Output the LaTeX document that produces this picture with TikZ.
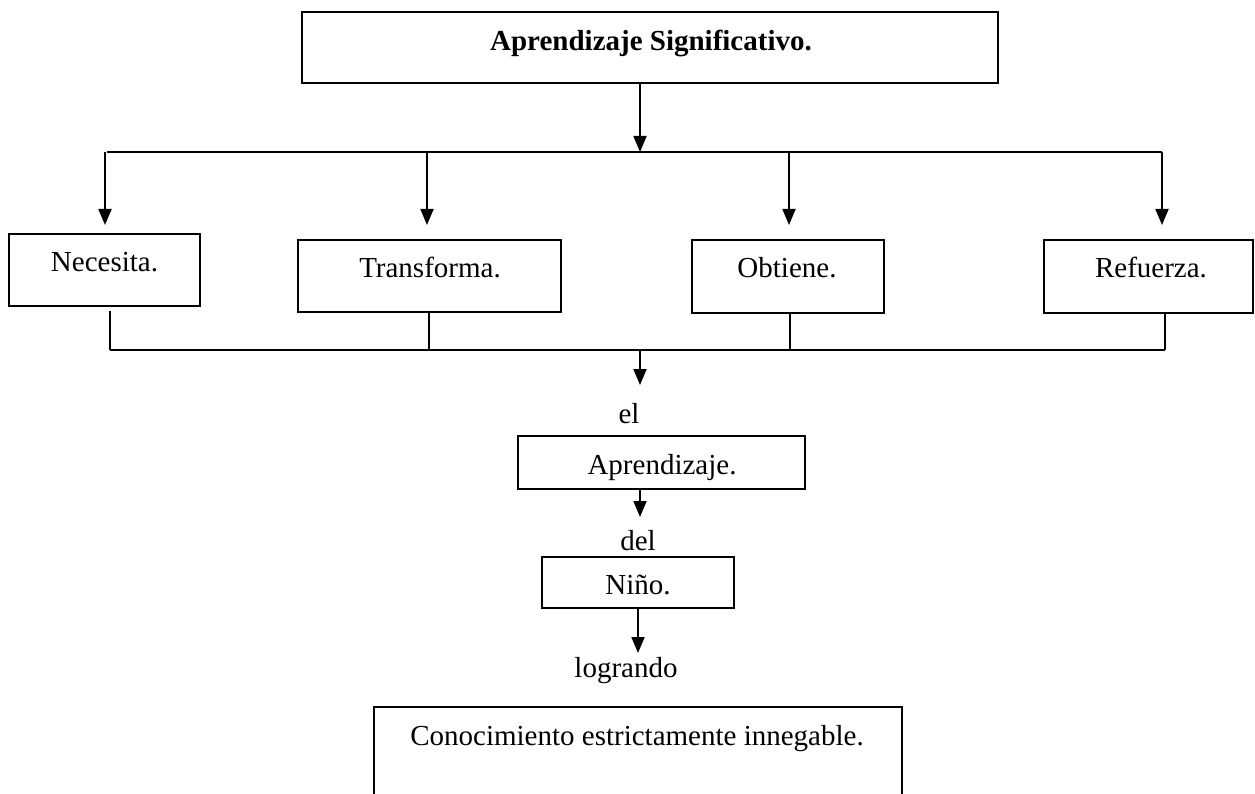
\documentclass[tikz,border=0pt]{standalone}
\usepackage{fontspec}
\setmainfont{Liberation Serif}
\usetikzlibrary{arrows.meta}
\begin{document}
\begin{tikzpicture}[x=1pt,y=-1pt,
  box/.style={draw, line width=2pt, inner sep=0pt, outer sep=0pt},
  lbl/.style={inner sep=0pt, anchor=base, font=\fontsize{29}{34}\selectfont},
  conn/.style={line width=1.8pt},
  thin/.style={line width=1.3pt},
  arr/.style={line width=1.8pt, -{Triangle[length=16pt,width=13pt]}}]
\useasboundingbox (0,0) rectangle (1255,794);
\clip (0,0) rectangle (1255,794);
% boxes
\node[box, minimum width=696pt, minimum height=71pt] (top) at (650,47.5) {};
\node[box, minimum width=191pt, minimum height=72pt] (nec) at (104.5,270) {};
\node[box, minimum width=263pt, minimum height=72pt] (tra) at (429.5,276) {};
\node[box, minimum width=192pt, minimum height=73pt] (obt) at (788,276.5) {};
\node[box, minimum width=209pt, minimum height=73pt] (ref) at (1148.5,276.5) {};
\node[box, minimum width=287pt, minimum height=53pt] (apr) at (661.5,462.5) {};
\node[box, minimum width=192pt, minimum height=51pt] (nin) at (638,582.5) {};
\node[box, minimum width=528pt, minimum height=110pt] (con) at (638,762) {};
% texts
\node[lbl] (topT) at (651,51) {\bfseries Aprendizaje Significativo.};
\node[lbl] (necT) at (104.5,272) {Necesita.};
\node[lbl] (traT) at (430,278) {Transforma.};
\node[lbl] (obtT) at (787,278) {Obtiene.};
\node[lbl] (refT) at (1151,278) {Refuerza.};
\node[lbl] (el) at (629,423) {el};
\node[lbl] (aprT) at (662,474) {Aprendizaje.};
\node[lbl] (del) at (638,550) {del};
\node[lbl] (ninT) at (638,594) {Niño.};
\node[lbl] (log) at (626,677) {logrando};
\node[lbl] (conT) at (637,745) {Conocimiento estrictamente innegable.};
% top branching
\coordinate (j1) at (640,152);
\coordinate (hl) at (107,152);
\coordinate (hr) at (1162,152);
\draw[arr] (j1 |- top.south) -- (j1);
\draw[conn] (hl) -- (hr);
\coordinate (d1) at (105,225);
\coordinate (d2) at (427,225);
\coordinate (d3) at (789,225);
\coordinate (d4) at (1162,225);
\draw[arr] (d1 |- hl) -- (d1);
\draw[arr] (d2 |- hl) -- (d2);
\draw[arr] (d3 |- hl) -- (d3);
\draw[arr] (d4 |- hl) -- (d4);
% bottom gathering
\coordinate (bl) at (110,350);
\coordinate (br) at (1165,350);
\coordinate (u1) at (110,311);
\draw[thin] (u1) -- (bl);
\draw[thin] (429,0 |- tra.south) -- (429,350);
\draw[thin] (790,0 |- obt.south) -- (790,350);
\draw[thin] (1165,0 |- ref.south) -- (br);
\draw[conn] (bl) -- (br);
\coordinate (j2) at (640,350);
\coordinate (t2) at (640,385);
\draw[arr] (j2) -- (t2);
% lower chain
\coordinate (t3) at (640,517);
\draw[arr] (t3 |- apr.south) -- (t3);
\coordinate (t4) at (638,653);
\draw[arr] (nin.south) -- (t4);
\end{tikzpicture}
\end{document}
